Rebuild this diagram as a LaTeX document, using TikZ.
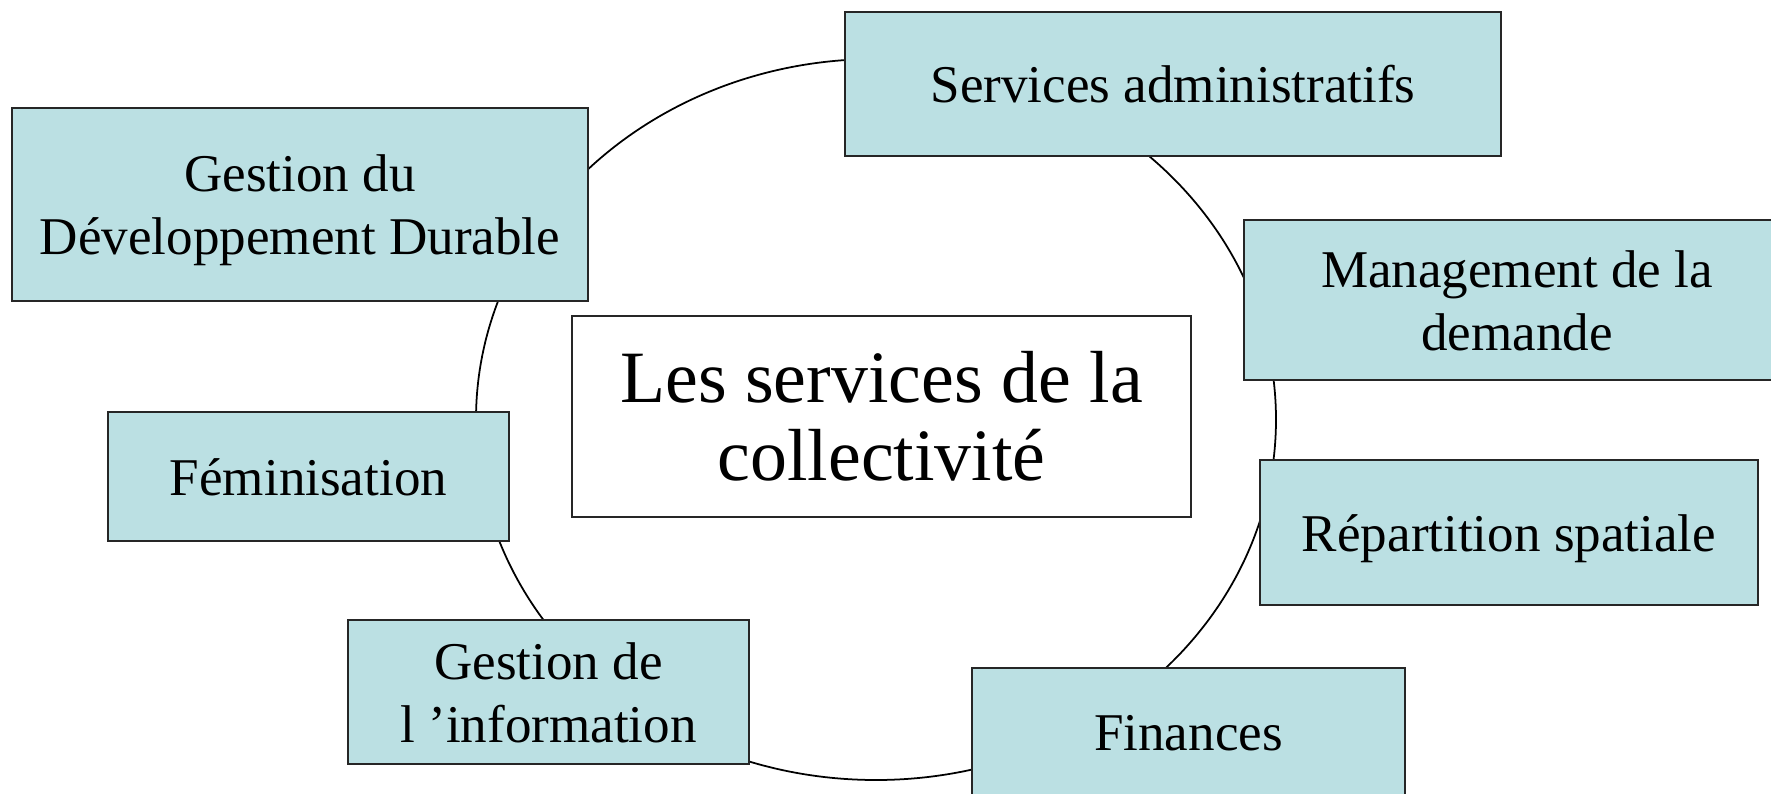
\documentclass[tikz,border=0pt]{standalone}
\usepackage{fontspec}
\setmainfont{Liberation Serif}
\definecolor{boxfill}{HTML}{BBE0E3}

\begin{document}
\begin{tikzpicture}[
    servbox/.style={rectangle, draw=black!85, line width=0.6pt, fill=boxfill,
        align=center, inner sep=0pt, text height=13.6pt, text depth=3pt,
        font=\fontsize{15.1}{17.9}\selectfont},
    twolines/.style={text height=31.5pt},
    titlebox/.style={rectangle, draw=black!85, line width=0.6pt, fill=white,
        align=center, inner sep=0pt, font=\fontsize{21}{22.2}\selectfont},
    ring/.style={draw=black, line width=0.5pt}]
    \useasboundingbox (0,0) rectangle (17.71,-7.93);

    % the ring behind the boxes
    \coordinate (centre) at (8.76,-4.195);
    \draw[ring] (centre) ellipse [x radius=4, y radius=3.605];

    \node[titlebox, minimum width=6.19cm, minimum height=2.01cm] (titre) at (8.815,-4.165)
        {Les services de la\\collectivité};

    \node[servbox, minimum width=6.56cm, minimum height=1.44cm] (admin) at (11.73,-0.84)
        {Services administratifs};
    \node[servbox, twolines, minimum width=5.46cm, minimum height=1.60cm] (demande) at (15.17,-3.00)
        {Management de la\\demande};
    \node[servbox, minimum width=4.98cm, minimum height=1.45cm] (spatial) at (15.09,-5.325)
        {Répartition spatiale};
    \node[servbox, minimum width=4.33cm, minimum height=1.28cm] (finances) at (11.885,-7.32)
        {Finances};
    \node[servbox, twolines, minimum width=4.01cm, minimum height=1.44cm] (info) at (5.485,-6.92)
        {Gestion de\\l ’information};
    \node[servbox, minimum width=4.01cm, minimum height=1.29cm] (femin) at (3.085,-4.765)
        {Féminisation};
    \node[servbox, twolines, minimum width=5.76cm, minimum height=1.93cm] (durable) at (3.00,-2.045)
        {Gestion du\\Développement Durable};
\end{tikzpicture}
\end{document}
